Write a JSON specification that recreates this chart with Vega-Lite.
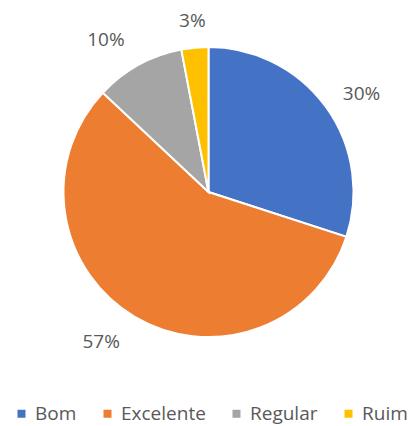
{
  "$schema": "https://vega.github.io/schema/vega-lite/v6.json",
  "width": 417,
  "height": 384,
  "padding": 0,
  "background": "white",
  "config": {"view": {"stroke": null}, "font": "Open Sans"},
  "data": {"values": [
    {"cat": "Bom", "value": 30, "label": "30%", "o": 1},
    {"cat": "Excelente", "value": 57, "label": "57%", "o": 2},
    {"cat": "Regular", "value": 10, "label": "10%", "o": 3},
    {"cat": "Ruim", "value": 3, "label": "3%", "o": 4}
  ]},
  "encoding": {
    "theta": {"field": "value", "type": "quantitative", "stack": true},
    "order": {"field": "o", "type": "quantitative"},
    "color": {
      "field": "cat", "type": "nominal",
      "scale": {"domain": ["Bom", "Excelente", "Regular", "Ruim"], "range": ["#4472C4", "#ED7D31", "#A5A5A5", "#FFC000"]},
      "legend": {
        "title": null, "orient": "none", "direction": "horizontal", "legendX": 12, "legendY": 404, "padding": 0,
        "symbolType": "square", "symbolSize": 64, "symbolStrokeWidth": 0,
        "labelFontSize": 19, "labelColor": "#595959", "labelFont": "Open Sans",
        "labelOffset": 4, "columnPadding": 21
      }
    }
  },
  "layer": [
    {"mark": {"type": "arc", "outerRadius": 145, "stroke": "white", "strokeWidth": 2}},
    {"mark": {"type": "text", "radius": 166, "align": "left", "fontSize": 19, "font": "Open Sans"},
     "encoding": {"text": {"field": "label"}, "color": {"value": "#595959"},
       "opacity": {"condition": {"test": "datum.cat == 'Bom'", "value": 1}, "value": 0}}},
    {"mark": {"type": "text", "radius": 174, "align": "right", "fontSize": 19, "font": "Open Sans"},
     "encoding": {"text": {"field": "label"}, "color": {"value": "#595959"},
       "opacity": {"condition": {"test": "datum.cat == 'Excelente' || datum.cat == 'Regular'", "value": 1}, "value": 0}}},
    {"mark": {"type": "text", "radius": 172, "align": "center", "fontSize": 19, "font": "Open Sans"},
     "encoding": {"text": {"field": "label"}, "color": {"value": "#595959"},
       "opacity": {"condition": {"test": "datum.cat == 'Ruim'", "value": 1}, "value": 0}}}
  ]
}
